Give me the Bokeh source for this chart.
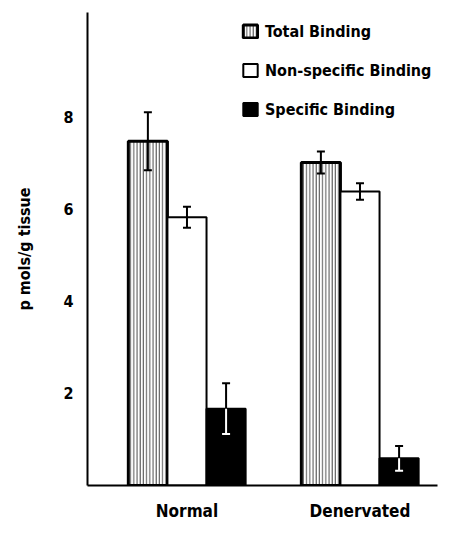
from bokeh.plotting import figure
from bokeh.models import ColumnDataSource, Range1d, FixedTicker
from bokeh.embed import file_html
from bokeh.resources import INLINE

categories = ["Normal", "Denervated"]
series_names = ["Total Binding", "Non-specific Binding", "Specific Binding"]
total = [7.48, 7.02]
total_err = [0.63, 0.24]
nonspecific = [5.83, 6.39]
nonspecific_err = [0.23, 0.18]
specific = [1.67, 0.59]
specific_err = [0.55, 0.27]
y_ticks = [2, 4, 6, 8]

FONT = "DejaVu Sans Condensed, Roboto Condensed, Liberation Sans, sans-serif"
bar_w = 0.226

x_pos = list(range(len(categories)))

p = figure(width=459, height=548, output_backend="svg", toolbar_location=None,
           x_range=Range1d(-0.575, 1.448), y_range=Range1d(0, 10.28),
           min_border_left=87, min_border_top=12, min_border_right=22, min_border_bottom=63)
p.outline_line_color = None
p.grid.visible = False
p.background_fill_color = "white"

series = [
    (total, total_err, -bar_w, dict(fill_color="white", hatch_pattern="|", hatch_scale=3.2,
                                    hatch_weight=1, hatch_color="#4a4a4a", line_width=3), "black"),
    (nonspecific, nonspecific_err, 0.0, dict(fill_color="white", line_width=2), "black"),
    (specific, specific_err, bar_w, dict(fill_color="black", line_width=2), "white"),
]

err_parts = []
for name, (vals, errs, off, style, low_col) in zip(series_names, series):
    xs = [x + off for x in x_pos]
    src = ColumnDataSource(dict(x=xs, top=vals,
                                hi=[v + e for v, e in zip(vals, errs)],
                                lo=[v - e for v, e in zip(vals, errs)]))
    p.vbar(x="x", top="top", bottom=0, width=bar_w, source=src, line_color="black",
           legend_label=name, **style)
    err_parts.append((src, low_col))

for src, low_col in err_parts:
    # upper half (above mean) in black
    p.segment(x0="x", y0="top", x1="x", y1="hi", source=src, line_color="black", line_width=2)
    p.scatter(x="x", y="hi", source=src, marker="dash", size=8, line_color="black", line_width=2)
    # lower half (below mean) in contrast colour
    p.segment(x0="x", y0="lo", x1="x", y1="top", source=src, line_color=low_col, line_width=2)
    p.scatter(x="x", y="lo", source=src, marker="dash", size=8, line_color=low_col, line_width=2)

# axes
p.xaxis.ticker = FixedTicker(ticks=x_pos)
p.xaxis.major_label_overrides = {i: c for i, c in zip(x_pos, categories)}
p.yaxis.ticker = FixedTicker(ticks=y_ticks)
for ax in (p.xaxis, p.yaxis):
    ax.axis_line_width = 2
    ax.axis_line_color = "black"
    ax.major_tick_out = 0
    ax.major_tick_in = 0
    ax.minor_tick_out = 0
    ax.minor_tick_in = 0
    ax.major_label_text_font = FONT
    ax.major_label_text_font_style = "bold"
    ax.major_label_text_color = "black"
p.xaxis.major_label_text_font_size = "17px"
p.xaxis.major_label_standoff = 15
p.yaxis.major_label_text_font_size = "16px"
p.yaxis.major_label_standoff = 14
p.yaxis.axis_label = "p mols/g tissue"
p.yaxis.axis_label_text_font = FONT
p.yaxis.axis_label_text_font_style = "bold"
p.yaxis.axis_label_text_font_size = "16px"
p.yaxis.axis_label_text_color = "black"
p.yaxis.axis_label_standoff = 26

lg = p.legend[0]
lg.location = (154, 366)
lg.padding = 0
lg.margin = 0
lg.border_line_color = None
lg.background_fill_alpha = 0
lg.glyph_width = 18
lg.glyph_height = 16
lg.label_height = 20
lg.spacing = 19
lg.label_standoff = 6
lg.label_text_font = FONT
lg.label_text_font_style = "bold"
lg.label_text_font_size = "16px"
lg.label_text_color = "black"

open("out.html", "w").write(file_html(p, INLINE))
